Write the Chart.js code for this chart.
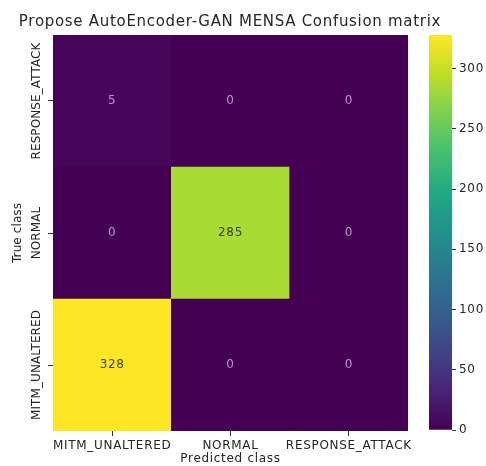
<!DOCTYPE html>
<html>
<head>
<meta charset="utf-8">
<script src="https://cdn.jsdelivr.net/npm/chart.js@4.4.1/dist/chart.umd.min.js"></script>
<style>
  html, body { margin: 0; padding: 0; background: #ffffff; }
  #wrap { position: relative; width: 486px; height: 466px; }
  canvas { position: absolute; left: 0; top: 0; }
</style>
</head>
<body>
<div id="wrap">
  <canvas id="main" width="486" height="466"></canvas>
  <canvas id="cbar" width="486" height="466"></canvas>
</div>
<script>
// ---- data ----
const predictedClasses = ["MITM_UNALTERED", "NORMAL", "RESPONSE_ATTACK"];
const trueClasses = ["MITM_UNALTERED", "NORMAL", "RESPONSE_ATTACK"]; // bottom -> top
const rowMITM = [328, 0, 0];
const rowNORMAL = [0, 285, 0];
const rowRESPONSE = [5, 0, 0];
const colorbarTicks = [0, 50, 100, 150, 200, 250, 300];
const titleText = "Propose AutoEncoder-GAN MENSA Confusion matrix";
const xTitle = "Predicted class";
const yTitle = "True class";

const rows = [rowMITM, rowNORMAL, rowRESPONSE];
const vmin = 0;
const vmax = Math.max(...rows.flat());

// viridis colormap
const VIR = ["#440154","#482475","#414487","#355f8d","#2a788e","#21918c","#22a884","#44bf70","#7ad151","#bddf26","#fde725"];
function hex2rgb(h){ return [parseInt(h.slice(1,3),16), parseInt(h.slice(3,5),16), parseInt(h.slice(5,7),16)]; }
function viridis(t){
  t = Math.max(0, Math.min(1, t));
  const p = t * (VIR.length - 1);
  const i = Math.min(Math.floor(p), VIR.length - 2);
  const f = p - i;
  const a = hex2rgb(VIR[i]), b = hex2rgb(VIR[i+1]);
  const c = a.map((v,k)=>Math.round(v + (b[k]-v)*f));
  return `rgb(${c[0]},${c[1]},${c[2]})`;
}

const FONT = "'DejaVu Sans', sans-serif";
const TXT = "#262626";
const LS = '0.7px';

const spacing = {
  id: 'spacing',
  beforeInit(chart) { chart.ctx.letterSpacing = LS; },
  beforeLayout(chart) { chart.ctx.letterSpacing = LS; },
  beforeDraw(chart) { chart.ctx.letterSpacing = LS; }
};

function drawVertical(ctx, text, x, yCenter) {
  ctx.save();
  ctx.letterSpacing = '0.1px';
  ctx.translate(x, yCenter);
  ctx.rotate(-Math.PI / 2);
  ctx.fillText(text, 0, 0);
  ctx.restore();
}

const annotate = {
  id: 'annotate',
  afterDatasetsDraw(chart) {
    const ctx = chart.ctx;
    ctx.save();
    ctx.font = `12px ${FONT}`;
    ctx.textAlign = 'center';
    ctx.textBaseline = 'middle';
    chart.data.datasets.forEach((ds, i) => {
      const meta = chart.getDatasetMeta(i);
      meta.data.forEach((bar, j) => {
        const v = rows[i][j];
        const t = (v - vmin) / (vmax - vmin);
        ctx.fillStyle = t > 0.5 ? 'rgba(38,38,20,0.85)' : '#c48ad6';
        ctx.fillText(String(v), bar.x, (bar.y + bar.base) / 2);
      });
    });
    // y tick labels and y title, rotated like the reference
    const ys = chart.scales.y;
    ctx.fillStyle = TXT;
    ctx.font = `12px ${FONT}`;
    trueClasses.forEach((lab, k) => {
      drawVertical(ctx, lab, 37, ys.getPixelForValue(k + 0.5));
    });
    const area = chart.chartArea;
    drawVertical(ctx, yTitle, 18, (area.top + area.bottom) / 2);
    ctx.restore();
  }
};

new Chart(document.getElementById('main'), {
  type: 'bar',
  data: {
    labels: predictedClasses,
    datasets: rows.map((r, i) => ({
      label: trueClasses[i],
      data: r.map(() => 1),
      backgroundColor: r.map(v => viridis((v - vmin) / (vmax - vmin))),
      borderWidth: 0,
      barPercentage: 1,
      categoryPercentage: 1
    }))
  },
  options: {
    responsive: false,
    animation: false,
    events: [],
    layout: { padding: { left: 0, right: 26, top: 0, bottom: 0 } },
    plugins: {
      legend: { display: false },
      tooltip: { enabled: false },
      title: {
        display: true,
        text: titleText,
        color: TXT,
        font: { family: FONT, size: 15, weight: 'normal' },
        padding: { top: 13, bottom: 4 }
      }
    },
    scales: {
      x: {
        stacked: true,
        grid: { display: true, drawOnChartArea: false, offset: false, tickLength: 5, color: '#333' },
        border: { display: false },
        ticks: { color: TXT, font: { family: FONT, size: 12 }, padding: 3, maxRotation: 0, minRotation: 0, autoSkip: false },
        title: { display: true, text: xTitle, color: TXT, font: { family: FONT, size: 12 }, padding: { top: 0, bottom: 0 } },
        afterFit(s) { s.height = 35; }
      },
      y: {
        stacked: true,
        min: 0, max: 3,
        grid: { display: true, drawOnChartArea: false, tickLength: 5, color: '#333' },
        border: { display: false },
        afterBuildTicks(s) { s.ticks = trueClasses.map((_, k) => ({ value: k + 0.5 })); },
        ticks: { callback: () => '', padding: 0 },
        afterFit(s) { s.width = 53; }
      },
      ySpace: {
        type: 'linear',
        position: 'right',
        grid: { display: false },
        border: { display: false },
        ticks: { display: false },
        afterFit(s) { s.width = 52; }
      }
    }
  },
  plugins: [spacing, annotate]
});

// colorbar
new Chart(document.getElementById('cbar'), {
  type: 'bar',
  data: {
    labels: [''],
    datasets: [{
      data: [[vmin, vmax]],
      borderWidth: 0,
      barPercentage: 1,
      categoryPercentage: 1,
      backgroundColor(c) {
        const a = c.chart.chartArea;
        if (!a) return VIR[0];
        const g = c.chart.ctx.createLinearGradient(0, a.bottom, 0, a.top);
        VIR.forEach((col, k) => g.addColorStop(k / (VIR.length - 1), col));
        return g;
      }
    }]
  },
  options: {
    responsive: false,
    animation: false,
    events: [],
    layout: { padding: { left: 429, right: 0, top: 35, bottom: 36 } },
    plugins: { legend: { display: false }, tooltip: { enabled: false } },
    scales: {
      x: { display: false },
      y: {
        position: 'right',
        min: vmin, max: vmax,
        grid: { display: true, drawOnChartArea: false, tickLength: 4, color: '#333' },
        border: { display: false },
        afterBuildTicks(s) { s.ticks = colorbarTicks.map(v => ({ value: v })); },
        ticks: { color: TXT, font: { family: FONT, size: 12 }, padding: 3 },
        afterFit(s) { s.width = 34; }
      }
    }
  },
  plugins: [spacing]
});
</script>
</body>
</html>
